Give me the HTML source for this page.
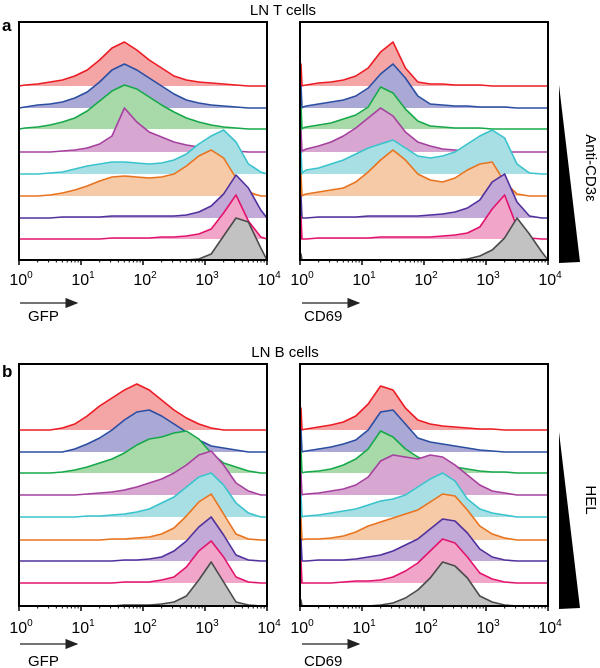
<!DOCTYPE html>
<html><head><meta charset="utf-8"><style>
html,body{margin:0;padding:0;background:#fff;}
svg{display:block;font-family:"Liberation Sans",Arial,sans-serif;}
</style></head><body>
<svg id="fig" width="600" height="668" viewBox="0 0 600 668" xmlns="http://www.w3.org/2000/svg">
<defs><marker id="ah" markerWidth="10" markerHeight="8" refX="9" refY="4" orient="auto"><path d="M0,0 L10,4 L0,8 Z" fill="#222"/></marker></defs>
<text x="2" y="31" font-size="17" font-weight="bold">a</text>
<text x="283" y="15" font-size="15" text-anchor="middle">LN T cells</text>
<text x="2" y="377" font-size="17" font-weight="bold">b</text>
<text x="285" y="357" font-size="15" text-anchor="middle">LN B cells</text>
<line x1="20" y1="303" x2="77" y2="303" stroke="#222" stroke-width="1.3" marker-end="url(#ah)"/>
<text x="28" y="321" font-size="15">GFP</text>
<line x1="302" y1="303" x2="359" y2="303" stroke="#222" stroke-width="1.3" marker-end="url(#ah)"/>
<text x="304" y="321" font-size="15">CD69</text>
<line x1="20" y1="644" x2="77" y2="644" stroke="#222" stroke-width="1.3" marker-end="url(#ah)"/>
<text x="28" y="666" font-size="15">GFP</text>
<line x1="302" y1="644" x2="359" y2="644" stroke="#222" stroke-width="1.3" marker-end="url(#ah)"/>
<text x="304" y="666" font-size="15">CD69</text>
<polygon points="559,85 559,263 580,262" fill="#000"/>
<text transform="translate(586,168) rotate(90)" font-size="15" text-anchor="middle">Anti-CD3ε</text>
<polygon points="559,432 559,609 580,608" fill="#000"/>
<text transform="translate(586,500) rotate(90)" font-size="15" text-anchor="middle">HEL</text>
<g id="plots"></g>
</svg>
<script>
// bin centers in log10 units: 0.1, 0.3, ..., 3.9
const binCenters = [0.1,0.3,0.5,0.7,0.9,1.1,1.3,1.5,1.7,1.9,2.1,2.3,2.5,2.7,2.9,3.1,3.3,3.5,3.7,3.9];
const tickDecades = [0,1,2,3,4];
const seriesNames = ["red","blue","green","magenta","cyan","orange","purple","pink","gray"];
const aGfp = [
 [1,2,4,6,10,16,26,38,44,36,26,18,10,6,4,3,2,1,0,0],
 [1,3,4,6,10,16,26,38,44,38,30,22,14,8,5,3,2,1,0,0],
 [1,2,4,7,11,18,28,38,44,40,32,24,17,11,7,4,2,1,0,0],
 [0,0,0,1,2,4,8,16,44,30,20,15,10,7,5,3,1,1,0,0],
 [0,0,1,2,5,8,10,12,12,11,10,11,14,20,30,38,44,32,10,2],
 [0,0,1,3,6,10,15,19,20,19,18,19,22,30,40,46,38,18,4,0],
 [0,0,0,1,1,1,1,2,2,2,2,2,2,3,6,12,24,43,30,8],
 [0,0,0,0,0,0,0,1,1,1,1,2,2,3,5,10,26,44,18,2],
 [0,0,0,0,0,0,0,0,0,0,0,0,0,0,1,6,24,42,38,12]
];
const aCd69 = [
 [1,3,4,6,10,18,34,44,18,4,2,2,1,1,1,0,0,0,0,0],
 [2,4,6,8,12,20,34,44,30,12,4,3,2,2,1,1,1,0,0,0],
 [2,4,6,10,14,22,42,36,20,8,3,2,1,1,1,0,0,0,0,0],
 [3,6,10,16,24,34,44,36,20,10,6,3,2,1,1,0,0,0,0,0],
 [4,6,10,14,20,26,30,34,26,18,16,18,22,30,38,44,36,10,1,0],
 [2,4,6,8,14,24,36,46,36,22,16,14,18,26,32,34,14,2,0,0],
 [0,1,1,1,1,2,2,2,2,2,3,4,6,10,18,36,44,16,2,0],
 [0,1,1,1,1,1,2,2,2,2,2,3,4,6,12,30,44,12,1,0],
 [0,0,0,0,0,0,0,0,0,0,0,0,0,1,4,10,22,42,26,8]
];
const bGfp = [
 [0,0,0,2,6,14,24,32,40,46,40,30,20,12,6,2,0,0,0,0],
 [0,0,0,0,3,8,14,22,32,40,42,36,28,20,12,6,4,2,0,0],
 [0,0,0,1,3,6,10,14,20,28,34,36,40,42,34,20,10,6,2,0],
 [0,0,0,0,0,1,2,3,5,8,12,16,22,30,40,44,30,12,4,0],
 [0,0,0,0,0,1,1,2,3,5,8,14,20,30,40,44,32,14,4,0],
 [0,0,0,0,0,0,0,1,1,2,3,6,12,24,38,46,26,6,1,0],
 [0,0,0,0,0,0,0,0,1,1,2,4,10,20,34,44,26,6,1,0],
 [0,0,0,0,0,0,0,0,1,1,1,3,6,16,32,42,26,6,1,0],
 [0,0,0,0,0,0,0,0,1,1,1,2,4,10,26,44,24,4,1,0]
];
const bCd69 = [
 [1,3,5,8,14,26,44,40,22,10,6,4,3,2,1,1,0,0,0,0],
 [1,3,5,8,12,22,40,42,28,14,10,8,6,4,2,1,0,0,0,0],
 [1,2,4,8,14,24,42,36,24,16,10,8,6,4,2,1,1,0,0,0],
 [1,2,4,6,10,18,34,40,38,36,40,38,30,20,10,4,2,0,0,0],
 [1,2,4,6,8,12,16,18,22,30,38,44,36,18,8,4,2,0,0,0],
 [1,1,2,4,8,14,18,22,26,30,38,46,44,30,14,6,2,0,0,0],
 [0,1,1,1,2,4,6,10,16,22,32,42,40,28,12,4,1,0,0,0],
 [0,0,0,1,2,2,3,6,12,20,32,44,40,26,10,4,1,0,0,0],
 [0,0,0,0,0,0,1,3,8,16,28,44,40,28,10,4,1,0,0,0]
];
const spikeCd69A = [22,22,22,22,22,22,22,22,6];
const spikeCd69B = [22,22,22,22,22,22,22,22,6];

const lineColors = ["#ec1c24","#2b4ea2","#16a84a","#a5409f","#3ac3cc","#e8731e","#50309c","#e2136d","#4a4a4a"];
const fillColors = ["#f4a5a6","#aaa8d5","#a8daa9","#d8a7d1","#a8dfe5","#f6caa6","#c3a9d7","#f1a6c9","#c2c2c2"];
const NS = "http://www.w3.org/2000/svg";
const root = document.getElementById("plots");
function mk(tag, attrs, parent){const e=document.createElementNS(NS,tag);for(const k in attrs)e.setAttribute(k,attrs[k]);parent.appendChild(e);return e;}

function drawPanel(name, x0, x1, yTop, baselines, data, spikes, tickY){
  const g = mk("g",{},root);
  
  
  const xs = v => x0 + (x1 - x0) * v / 4;
  const ys = (base, v) => base - v;
  for (let s = 0; s < data.length; s++) {
    const base = baselines[s], vals = data[s];
    let pts = [[x0, base]];
    for (let i = 0; i < vals.length; i++) {
      pts.push([xs(binCenters[i]), ys(base, vals[i])]);
    }
    pts.push([x1, base]);
    const d = "M" + pts.map(p => p[0].toFixed(1) + "," + p[1].toFixed(1)).join(" L");
    const fill = mk("path",{d: d + " Z", fill: fillColors[s], stroke: "none"}, g);
    
    
    let ld = d;
    if (spikes) ld = "M" + (x0+1) + "," + base + " L" + (x0+1) + "," + (base - spikes[s]) + " L" + (x0+2) + "," + base + " " + d.replace(/^M/, "L");
    const line = mk("path",{d: ld, fill: "none", stroke: lineColors[s], "stroke-width": 1.6, "stroke-linejoin": "round"}, g);
    
    
  }
  const bottom = baselines[baselines.length - 1];
  const box = mk("rect",{x: x0, y: yTop, width: x1 - x0, height: bottom - yTop, fill: "none", stroke: "#000", "stroke-width": 2}, g);
  
  
  for (let d = 0; d < 4; d++) for (let m = 2; m < 10; m++) {
    const x = xs(d + Math.log10(m));
    const t = mk("line",{x1: x, x2: x, y1: bottom, y2: bottom + 2.5, stroke: "#000", "stroke-width": 1}, g);
    
    
  }
  for (const d of tickDecades) {
    const x = xs(d);
    const t = mk("line",{x1: x, x2: x, y1: bottom, y2: bottom + 5, stroke: "#000", "stroke-width": 1.5}, g);
    
    
    const tx = mk("text",{x: x + 2, y: tickY, "font-size": 16, "text-anchor": "middle"}, g);
    
    
    tx.textContent = "10";
    const sup = mk("tspan",{dy: -7, "font-size": 10}, tx);
    sup.textContent = String(d);
  }
}
const baseA = [86,108,129,152,174,196,218,239,260];
const baseB = [430,452,473,495,517,540,561,583,606];
drawPanel("panel-a-gfp", 19, 267, 22, baseA, aGfp, null, 285);
drawPanel("panel-a-cd69", 300, 548, 22, baseA, aCd69, spikeCd69A, 285);
drawPanel("panel-b-gfp", 19, 267, 364, baseB, bGfp, null, 633);
drawPanel("panel-b-cd69", 300, 548, 364, baseB, bCd69, spikeCd69B, 633);
</script>
</body></html>
